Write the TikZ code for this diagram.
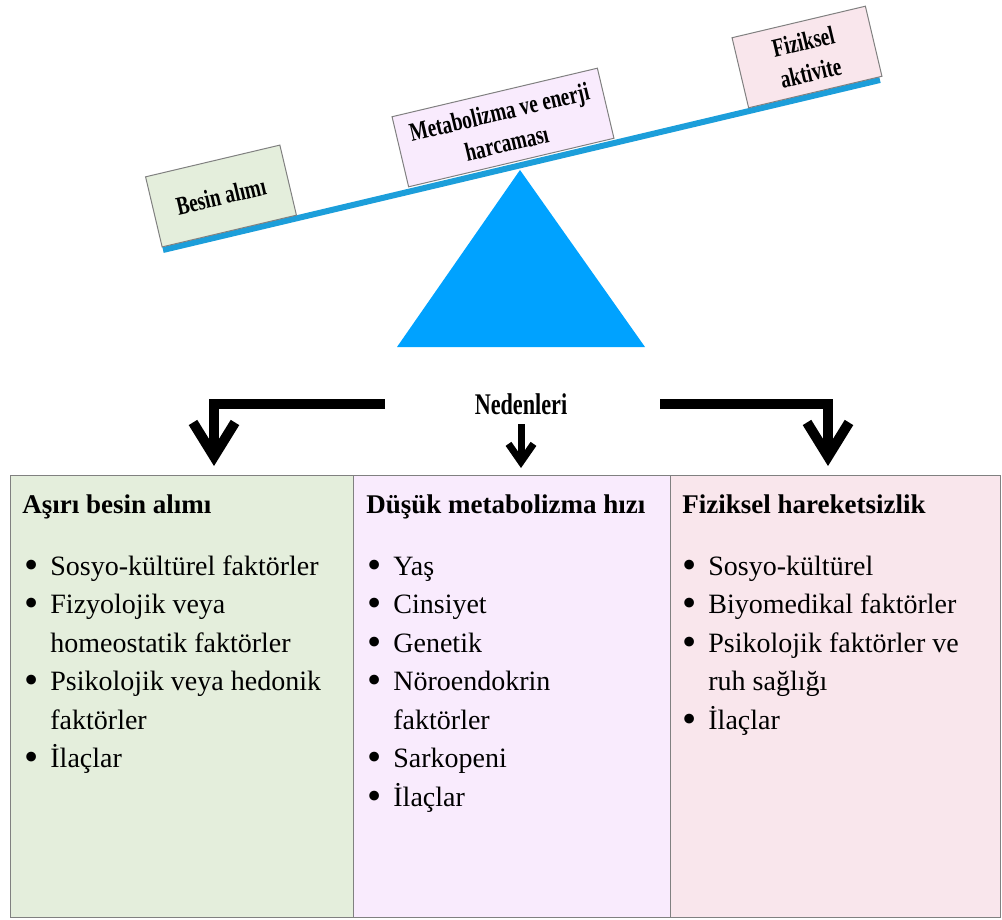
\documentclass[tikz,border=0pt]{standalone}
\usepackage{fontspec}
\setmainfont{Liberation Serif}
\newfontfamily\condfont[FakeStretch=0.74]{Liberation Serif}
\usetikzlibrary{arrows.meta}
\definecolor{beamblue}{RGB}{28,158,218}
\definecolor{fulcrumblue}{RGB}{0,162,255}
\definecolor{greenbox}{RGB}{228,238,220}
\definecolor{lilacbox}{RGB}{249,235,253}
\definecolor{pinkbox}{RGB}{249,230,236}
\definecolor{edgegray}{RGB}{128,128,128}
\newcommand{\listbul}{\makebox[13pt][l]{\raisebox{-0.25ex}{\scalebox{1.45}{\textbullet}}}}
\newcommand{\listgap}{\hspace*{13pt}}
\begin{document}
\begin{tikzpicture}[x=0.5pt, y=-0.5pt,
    beambox/.style={draw=edgegray, line width=0.5pt, rotate=13.3, minimum height=36pt, align=center, inner sep=2pt, font=\condfont\bfseries\fontsize{13}{16}\selectfont},
    colbox/.style={draw=edgegray, line width=0.6pt, anchor=north west, minimum height=221pt, inner sep=0pt},
    headtxt/.style={anchor=base west, inner sep=0pt, font=\bfseries\fontsize{13.5}{16}\selectfont},
    itemtxt/.style={anchor=base west, inner sep=0pt, font=\fontsize{14}{17}\selectfont},
    bigarrow/.style={line width=5pt, -{Straight Barb[length=17pt, width=21pt, sharp]}}]
    \useasboundingbox (0,0) rectangle (1002,920);

    % seesaw
    \fill[fulcrumblue] (520,170) -- (645,347) -- (397,347) -- cycle;
    \coordinate (beam_l) at (163,250);
    \coordinate (beam_r) at (880,80);
    \draw[beamblue, line width=3pt] (beam_l) -- (beam_r);
    \node[beambox, fill=greenbox, minimum width=69pt] (besin) at (221,196) {Besin alımı};
    \node[beambox, fill=lilacbox, minimum width=105.5pt] (metab) at (503,127.5) {Metabolizma ve enerji\\harcaması};
    \node[beambox, fill=pinkbox, minimum width=68.5pt] (fiz) at (807,57) {Fiziksel\\aktivite};

    % causes
    \node[inner sep=0pt, font=\condfont\bfseries\fontsize{15}{17}\selectfont] (neden) at (521,404) {Nedenleri};
    \coordinate (bar_a) at (385,404);
    \coordinate (bar_c) at (660,404);
    \coordinate (stem_b) at (521,424);
    \coordinate (tip_a) at (214,466);
    \coordinate (tip_b) at (521,468);
    \coordinate (tip_c) at (828,466);
    \draw[bigarrow] (bar_a) -| (tip_a);
    \draw[bigarrow] (bar_c) -| (tip_c);
    \draw[line width=3.5pt, -{Straight Barb[length=9pt, width=12.5pt, sharp]}] (stem_b) -- (tip_b);

    % columns
    \node[colbox, fill=greenbox, minimum width=171.5pt] (col_a) at (10,475) {};
    \node[colbox, fill=lilacbox, minimum width=158.5pt] (col_b) at (353,475) {};
    \node[colbox, fill=pinkbox, minimum width=165pt] (col_c) at (670,475) {};

    \node[headtxt] (head_a) at (22,513) {Aşırı besin alımı};
    \node[headtxt] (head_b) at (366,513) {Düşük metabolizma hızı};
    \node[headtxt] (head_c) at (682,513) {Fiziksel hareketsizlik};

    \foreach \txt [count=\i] in {{\listbul Sosyo-kültürel faktörler}, {\listbul Fizyolojik veya}, {\listgap homeostatik faktörler}, {\listbul Psikolojik veya hedonik}, {\listgap faktörler}, {\listbul İlaçlar}}
        \node[itemtxt] (a_\i) at (24,{575+38.5*(\i-1)}) {\txt};
    \foreach \txt [count=\i] in {{\listbul Yaş}, {\listbul Cinsiyet}, {\listbul Genetik}, {\listbul Nöroendokrin}, {\listgap faktörler}, {\listbul Sarkopeni}, {\listbul İlaçlar}}
        \node[itemtxt] (b_\i) at (367,{575+38.5*(\i-1)}) {\txt};
    \foreach \txt [count=\i] in {{\listbul Sosyo-kültürel}, {\listbul Biyomedikal faktörler}, {\listbul Psikolojik faktörler ve}, {\listgap ruh sağlığı}, {\listbul İlaçlar}}
        \node[itemtxt] (c_\i) at (682,{575+38.5*(\i-1)}) {\txt};
\end{tikzpicture}
\end{document}
